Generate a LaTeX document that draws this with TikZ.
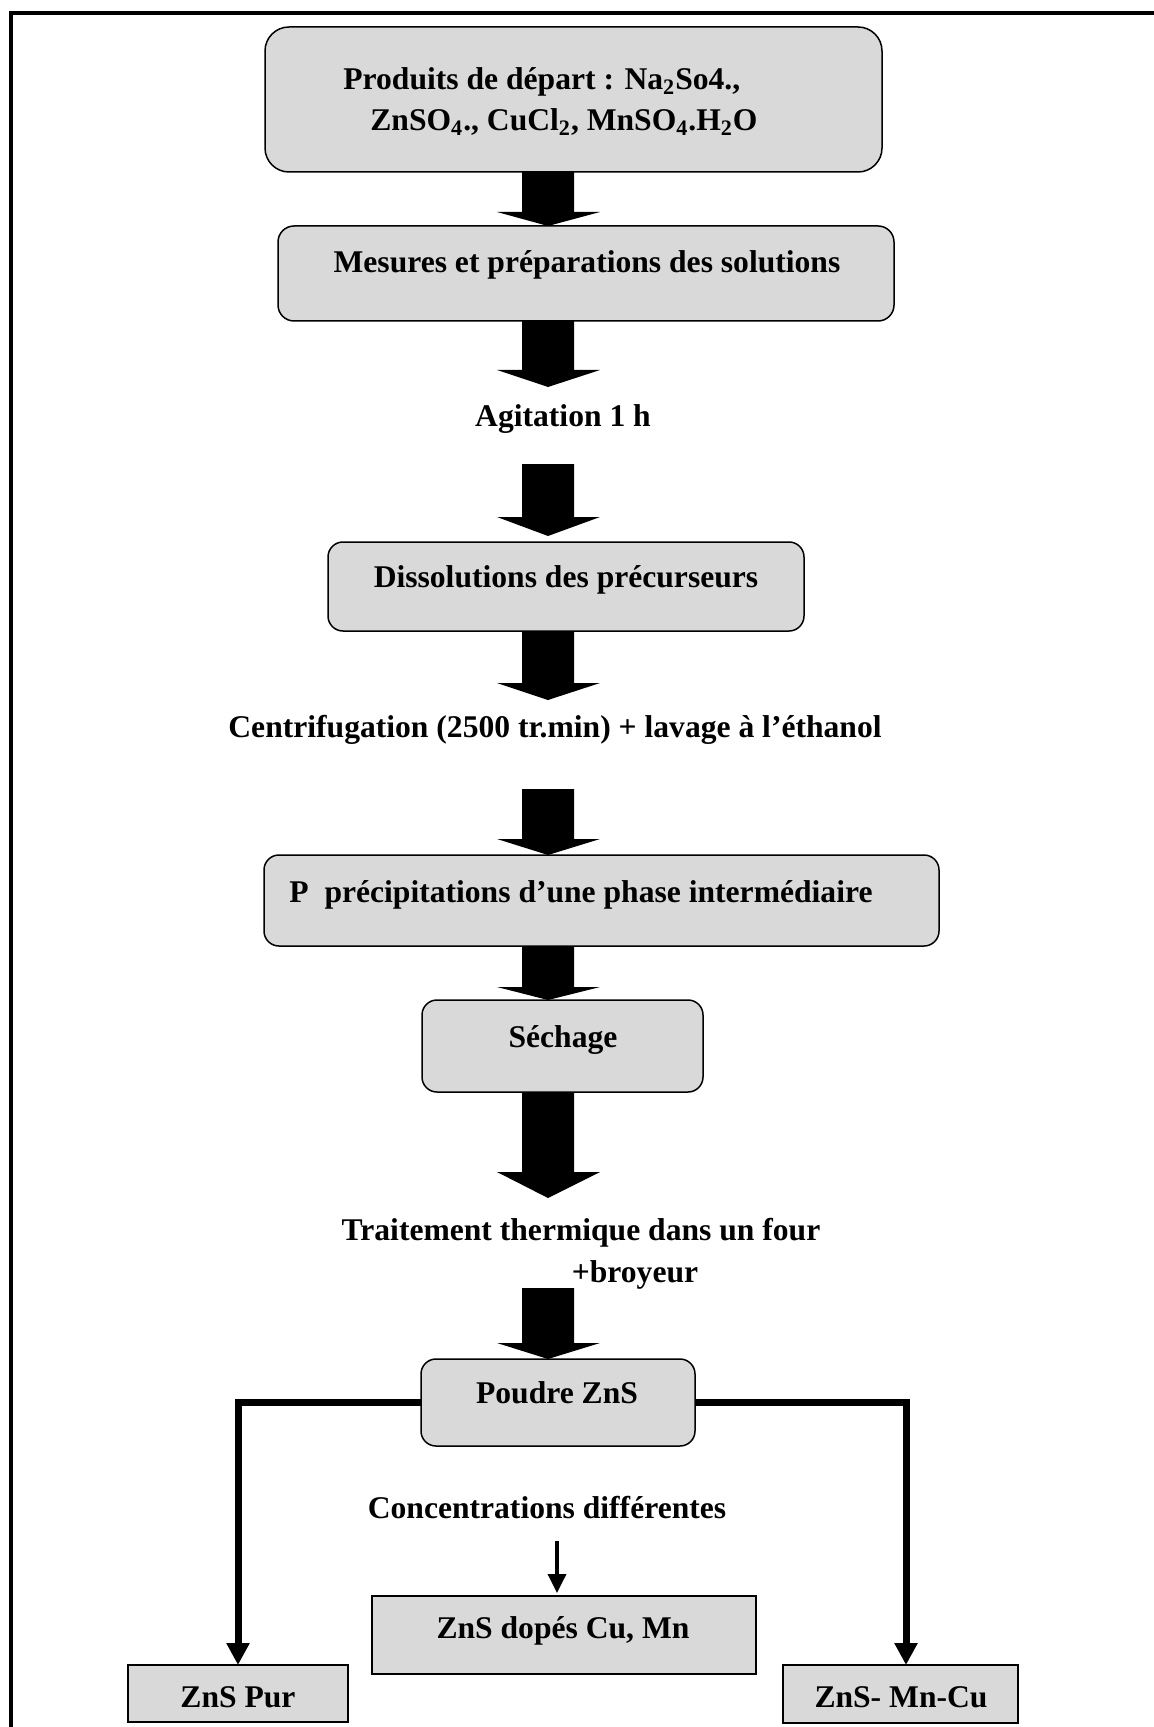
\documentclass[tikz,border=0pt]{standalone}
\usepackage{fontspec}
\setmainfont{Liberation Serif}
\usetikzlibrary{arrows.meta,calc}
\definecolor{boxgray}{RGB}{217,217,217}
\newcommand\blockarrow[3]{%
  \fill[black] ($(#1)+(-26,0)$) -- ($(#1)+(26,0)$) -- ($(#2)+(26,-#3)$) -- ($(#2)+(52,-#3)$)
    -- (#2) -- ($(#2)+(-51,-#3)$) -- ($(#2)+(-26,-#3)$) -- cycle;}
\begin{document}
\begin{tikzpicture}[x=0.5pt,y=-0.5pt,
  box/.style={draw=black,line width=0.75pt,fill=boxgray,inner sep=0pt,outer sep=0pt},
  sqbox/.style={box,line width=1pt},
  lbl/.style={font=\bfseries\fontsize{15.8}{19}\selectfont,inner sep=0pt,anchor=base},
  lblw/.style={lbl,anchor=base west},
  branch/.style={line width=3.5pt,-{Triangle[width=11pt,length=11pt]}},
  thin/.style={line width=1.75pt,-{Triangle[width=9pt,length=9.5pt]}}]
\useasboundingbox (0,0) rectangle (1154,1727);
\fill[white] (0,0) rectangle (1154,1727);
% frame
\draw[line width=2pt] (11,1727) -- (11,13.5) -- (1154,13.5);
% boxes
\node[box,rounded corners=12pt,minimum width=308.5pt,minimum height=72.5pt] (b1) at (573.5,99.5) {};
\node[box,rounded corners=8pt,minimum width=308pt,minimum height=47.5pt] (b2) at (586,273.5) {};
\node[box,rounded corners=7.5pt,minimum width=238pt,minimum height=44.5pt] (b3) at (566,586.5) {};
\node[box,rounded corners=7.5pt,minimum width=337.5pt,minimum height=45.5pt] (b4) at (601.5,900.5) {};
\node[box,rounded corners=7.5pt,minimum width=140.5pt,minimum height=46pt] (b5) at (562.5,1046) {};
\node[box,rounded corners=7.5pt,minimum width=137pt,minimum height=43.5pt] (b6) at (558,1402.5) {};
\node[sqbox,minimum width=192pt,minimum height=39pt] (b7) at (564,1635) {};
\node[sqbox,minimum width=110pt,minimum height=28.5pt] (b8) at (238,1693.5) {};
\node[sqbox,minimum width=117.5pt,minimum height=29pt] (b9) at (900.5,1694) {};
% texts
\node[lblw] (t1a) at (343,90) {Produits de départ : Na\textsubscript{2}So4.,};
\node[lblw] (t1b) at (370,131) {ZnSO\textsubscript{4}., CuCl\textsubscript{2}, MnSO\textsubscript{4}.H\textsubscript{2}O};
\node[lbl] (t2) at (587,273) {Mesures et préparations des solutions};
\node[lbl] (t3) at (563,427) {Agitation 1 h};
\node[lbl] (t4) at (566,587) {Dissolutions des précurseurs};
\node[lbl] (t5) at (555,737) {Centrifugation (2500 tr.min) + lavage à l’éthanol};
\node[lblw] (t6) at (289,902) {P\ \ précipitations d’une phase intermédiaire};
\node[lbl] (t7) at (563,1047) {Séchage};
\node[lbl] (t8a) at (581,1240) {Traitement thermique dans un four};
\node[lbl] (t8b) at (635,1282) {+broyeur};
\node[lbl] (t9) at (557,1403) {Poudre ZnS};
\node[lbl] (t10) at (547,1518) {Concentrations différentes};
\node[lbl] (t11) at (563,1638) {ZnS dopés Cu, Mn};
\node[lbl] (t12) at (238,1707) {ZnS Pur};
\node[lbl] (t13) at (901,1707) {ZnS- Mn-Cu};
% arrow coordinates
\coordinate (ax) at (548,0);
\coordinate (a2e) at (548,387);
\coordinate (a3s) at (548,464);
\coordinate (a3e) at (548,536);
\coordinate (a4e) at (548,700);
\coordinate (a5s) at (548,789);
\coordinate (a7e) at (548,1198);
\coordinate (a8s) at (548,1288);
\coordinate (ts) at (557,1541);
\coordinate (te) at (557,1593);
% block arrows
\blockarrow{b1.south -| ax}{b2.north -| ax}{14}
\blockarrow{b2.south -| ax}{a2e}{17}
\blockarrow{a3s}{a3e}{19}
\blockarrow{b3.south -| ax}{a4e}{17}
\blockarrow{a5s}{b4.north -| ax}{16}
\blockarrow{b4.south -| ax}{b5.north -| ax}{13}
\blockarrow{b5.south -| ax}{a7e}{26}
\blockarrow{a8s}{b6.north -| ax}{16}
% branches
\draw[branch] (b6.west) -| (b8.north);
\draw[branch] (b6.east) -| ($(b9.north)+(5.5,0)$);
\draw[thin] (ts) -- (te);
\end{tikzpicture}
\end{document}
